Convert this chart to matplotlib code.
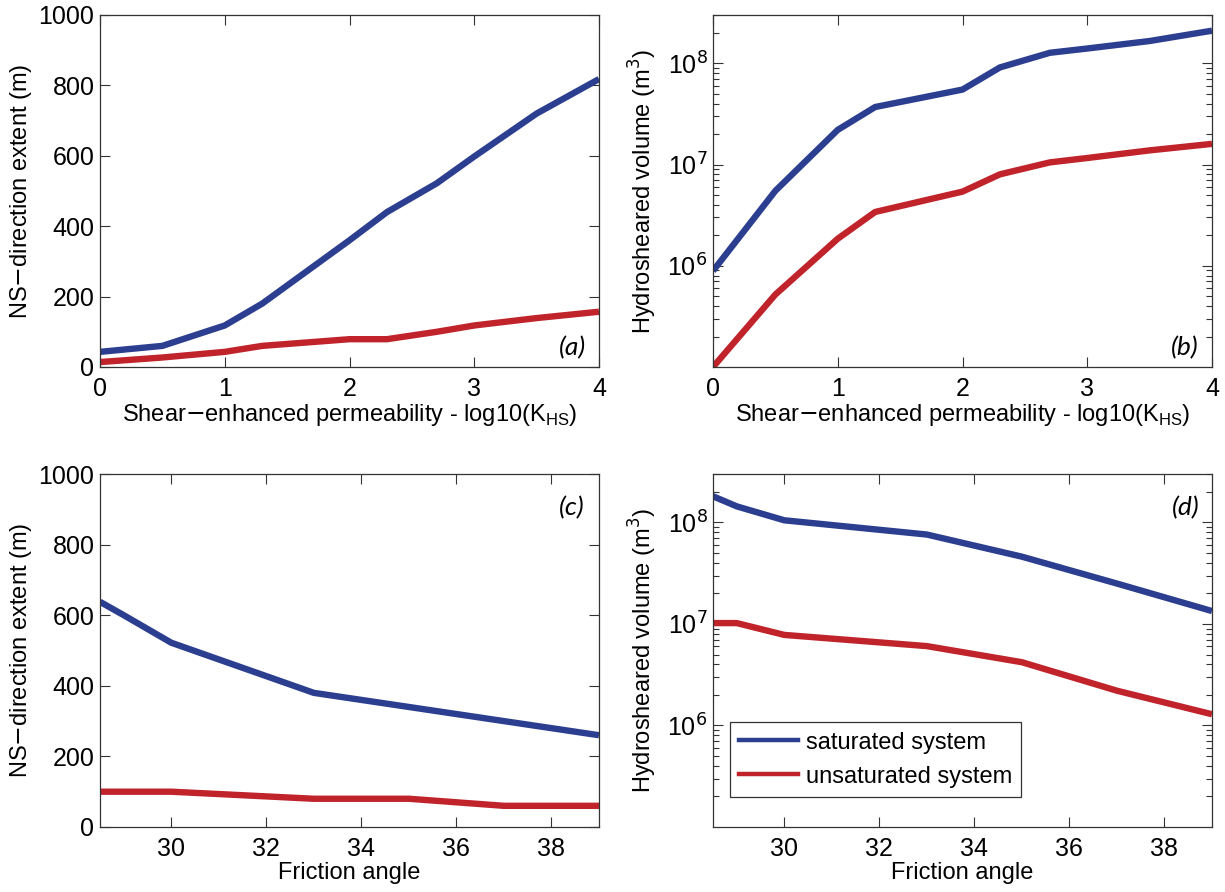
import numpy as np
import matplotlib
matplotlib.use('Agg')
import matplotlib.pyplot as plt
from matplotlib.lines import Line2D

plt.rcParams['font.family'] = ['Liberation Sans', 'DejaVu Sans']

# Data
k_hs = [0, 0.5, 1, 1.3, 2, 2.3, 2.7, 3, 3.5, 4]
ext_sat_k = [43, 60, 118, 180, 360, 440, 522, 598, 720, 818]
ext_unsat_k = [14, 27, 43, 60, 79, 79, 100, 118, 139, 157]
vol_sat_k = [8.9e5, 5.5e6, 2.2e7, 3.7e7, 5.5e7, 9.1e7, 1.27e8, 1.4e8, 1.66e8, 2.1e8]
vol_unsat_k = [1.0e5, 5.2e5, 1.85e6, 3.4e6, 5.4e6, 8.0e6, 1.05e7, 1.16e7, 1.38e7, 1.6e7]

phi = [28.5, 29, 30, 33, 35, 37, 39]
ext_sat_phi = [638, 600, 522, 380, 340, 300, 260]
ext_unsat_phi = [100, 100, 100, 80, 80, 60, 60]
vol_sat_phi = [1.81e8, 1.44e8, 1.05e8, 7.6e7, 4.6e7, 2.5e7, 1.34e7]
vol_unsat_phi = [1.02e7, 1.02e7, 7.8e6, 6.05e6, 4.2e6, 2.2e6, 1.29e6]

blue = '#2c3e90'
red = '#c1232b'
lw = 4.6
fs = 17    # axis labels
tfs = 18   # tick labels

fig = plt.figure(figsize=(12.25, 8.92), dpi=100)
W, H = 1225, 892

def make_ax(x0, x1, y0, y1):
    return fig.add_axes([x0 / W, 1 - y1 / H, (x1 - x0) / W, (y1 - y0) / H])

ax_a = make_ax(100, 599, 15, 367)
ax_b = make_ax(713, 1212, 15, 367)
ax_c = make_ax(100, 599, 474, 827)
ax_d = make_ax(713, 1212, 474, 827)

def style(ax):
    ax.tick_params(which='both', direction='in', top=True, right=True,
                   labelsize=tfs, width=0.8, color='#333333')
    ax.tick_params(which='major', length=7)
    ax.tick_params(which='minor', length=4)
    ax.tick_params(axis='x', pad=7)
    ax.tick_params(axis='y', pad=4)
    for s in ax.spines.values():
        s.set_linewidth(0.9)
        s.set_color('#333333')

label_font = dict(family=['Lato', 'DejaVu Sans'], style='italic', fontsize=19)
kx_label = r'Shear$-$enhanced permeability - log10(K$_{\mathregular{HS}}$)'

# (a)
ax_a.plot(k_hs, ext_sat_k, color=blue, lw=lw, solid_capstyle='butt')
ax_a.plot(k_hs, ext_unsat_k, color=red, lw=lw, solid_capstyle='butt')
ax_a.set_xlim(0, 4)
ax_a.set_ylim(0, 1000)
ax_a.set_xticks([0, 1, 2, 3, 4])
ax_a.set_yticks([0, 200, 400, 600, 800, 1000])
ax_a.set_xlabel(kx_label, fontsize=fs, labelpad=1)
ax_a.set_ylabel(r'NS$-$direction extent (m)', fontsize=fs, labelpad=3)
ax_a.text(0.946, 0.054, '(a)', transform=ax_a.transAxes, ha='center', va='center', **label_font)
style(ax_a)

# (b)
ax_b.plot(k_hs, vol_sat_k, color=blue, lw=lw, solid_capstyle='butt')
ax_b.plot(k_hs, vol_unsat_k, color=red, lw=lw, solid_capstyle='butt')
ax_b.set_yscale('log')
ax_b.set_xlim(0, 4)
ax_b.set_ylim(1e5, 3e8)
ax_b.set_xticks([0, 1, 2, 3, 4])
ax_b.set_yticks([1e6, 1e7, 1e8])
ax_b.set_yticklabels([r'10$^{6}$', r'10$^{7}$', r'10$^{8}$'])
ax_b.set_xlabel(kx_label, fontsize=fs, labelpad=1)
ax_b.set_ylabel(r'Hydrosheared volume (m$^{3}$)', fontsize=fs, labelpad=6)
ax_b.text(0.946, 0.054, '(b)', transform=ax_b.transAxes, ha='center', va='center', **label_font)
style(ax_b)

# (c)
ax_c.plot(phi, ext_sat_phi, color=blue, lw=lw, solid_capstyle='butt')
ax_c.plot(phi, ext_unsat_phi, color=red, lw=lw, solid_capstyle='butt')
ax_c.set_xlim(28.5, 39)
ax_c.set_ylim(0, 1000)
ax_c.set_xticks([30, 32, 34, 36, 38])
ax_c.set_yticks([0, 200, 400, 600, 800, 1000])
ax_c.set_xlabel('Friction angle', fontsize=fs, labelpad=1)
ax_c.set_ylabel(r'NS$-$direction extent (m)', fontsize=fs, labelpad=3)
ax_c.text(0.946, 0.904, '(c)', transform=ax_c.transAxes, ha='center', va='center', **label_font)
style(ax_c)

# (d)
ax_d.plot(phi, vol_sat_phi, color=blue, lw=lw, solid_capstyle='butt', label='saturated system')
ax_d.plot(phi, vol_unsat_phi, color=red, lw=lw, solid_capstyle='butt', label='unsaturated system')
ax_d.set_yscale('log')
ax_d.set_xlim(28.5, 39)
ax_d.set_ylim(1e5, 3e8)
ax_d.set_xticks([30, 32, 34, 36, 38])
ax_d.set_yticks([1e6, 1e7, 1e8])
ax_d.set_yticklabels([r'10$^{6}$', r'10$^{7}$', r'10$^{8}$'])
ax_d.set_xlabel('Friction angle', fontsize=fs, labelpad=1)
ax_d.set_ylabel(r'Hydrosheared volume (m$^{3}$)', fontsize=fs, labelpad=6)
ax_d.text(0.948, 0.904, '(d)', transform=ax_d.transAxes, ha='center', va='center', **label_font)
style(ax_d)

handles = [Line2D([], [], color=blue, lw=3.2), Line2D([], [], color=red, lw=3.2)]
leg = ax_d.legend(handles, ['saturated system', 'unsaturated system'],
                  loc='lower left', bbox_to_anchor=(0.034, 0.085), fontsize=fs,
                  fancybox=False, framealpha=1, edgecolor='#333333',
                  handlelength=2.5, handletextpad=0.3, borderpad=0.4,
                  labelspacing=0.5, borderaxespad=0)
leg.get_frame().set_linewidth(0.9)

fig.savefig('out.png', dpi=100)
